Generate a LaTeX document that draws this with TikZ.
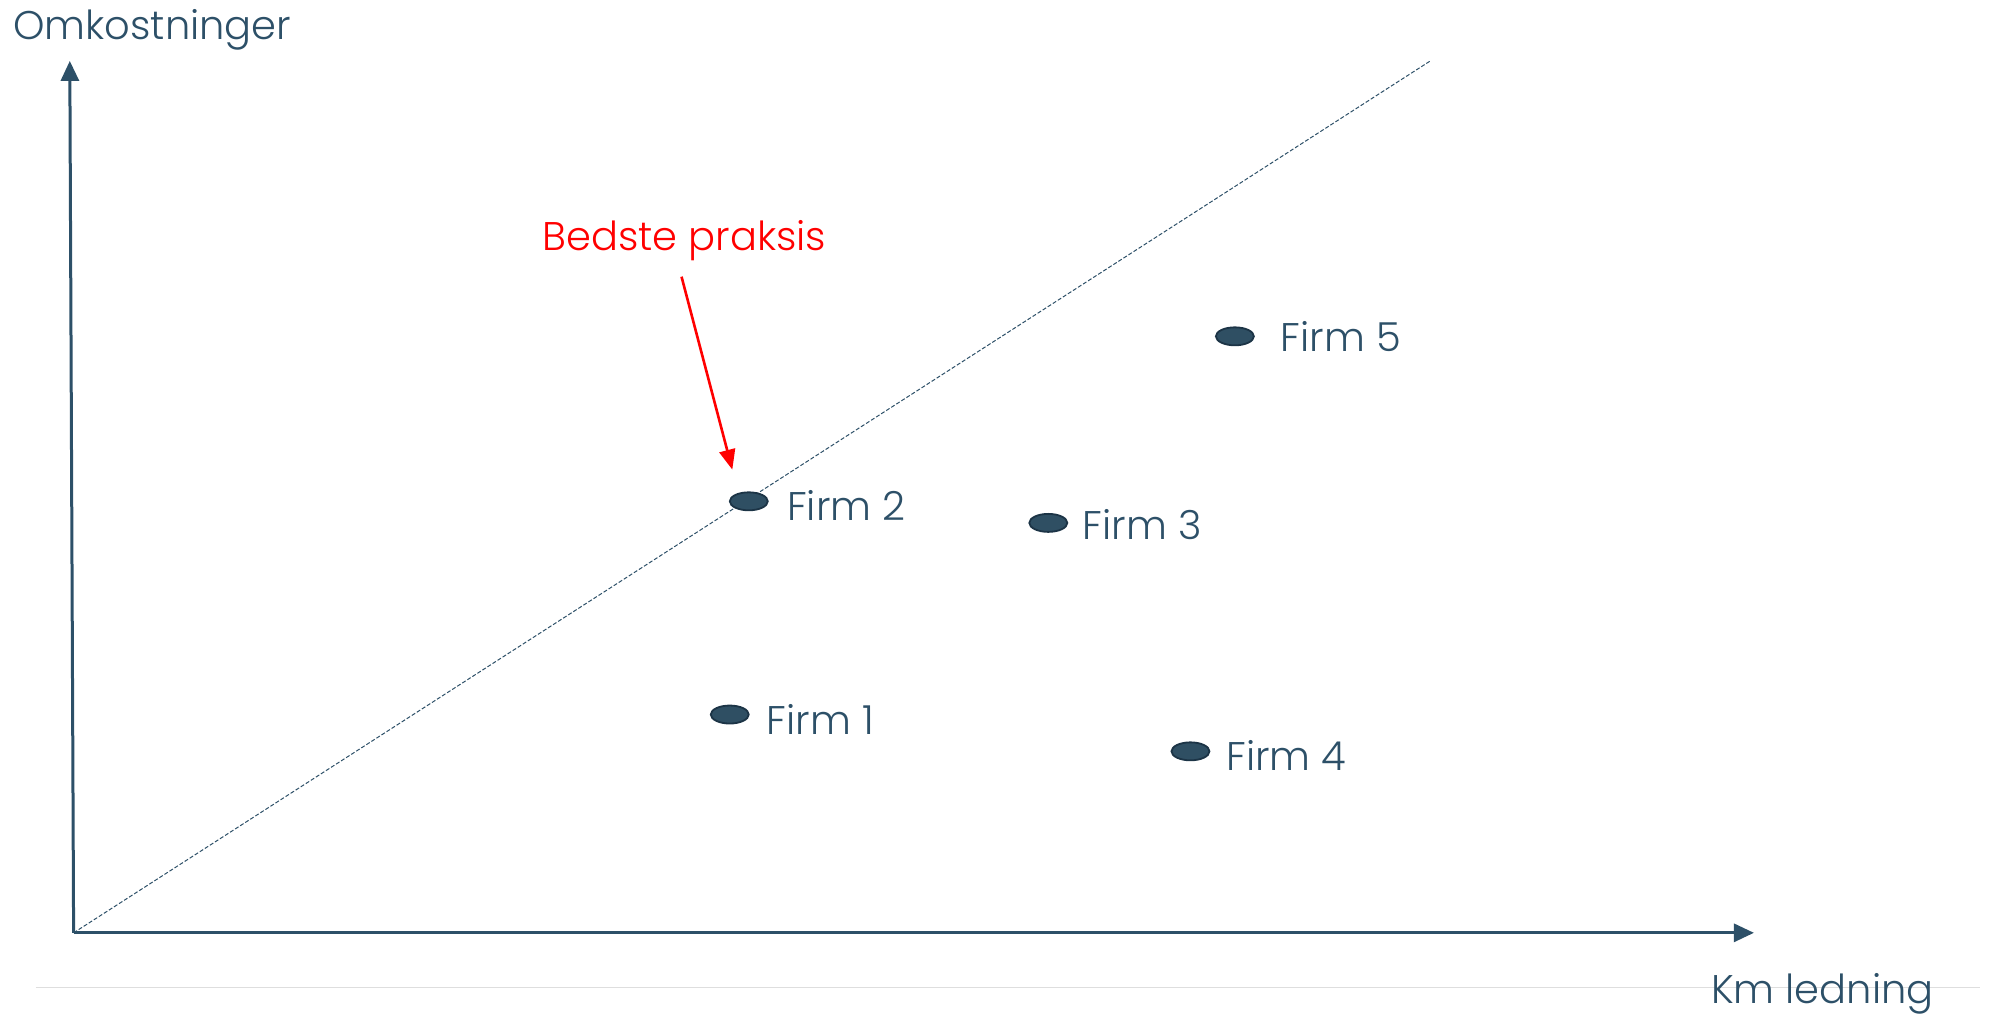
\documentclass[tikz,border=0pt]{standalone}
\usetikzlibrary{arrows.meta,shapes.geometric}
\usepackage{fontspec}
\setmainfont{Poppins}[UprightFont=* Light]
\definecolor{axiscol}{RGB}{45,80,104}
\definecolor{dotfill}{RGB}{47,79,99}
\definecolor{dotedge}{RGB}{28,52,70}
\definecolor{gridgray}{RGB}{222,222,222}
\begin{document}
\begin{tikzpicture}[x=0.6346pt,y=-0.6346pt,
  lbl/.style={anchor=base west,inner sep=0pt,text=axiscol,font=\fontsize{20}{24}\selectfont},
  firmdot/.style={ellipse,draw=dotedge,fill=dotfill,line width=0.9pt,minimum width=19pt,minimum height=9pt,inner sep=0pt},
  axisline/.style={draw=axiscol,line width=1.5pt,-{Triangle[length=10pt,width=9pt]}},
  bestline/.style={draw=axiscol,line width=0.5pt,dash pattern=on 2pt off 1pt}]
\useasboundingbox (0,0) rectangle (1568,799);
\coordinate (O) at (58,735);
\coordinate (ytop) at (55,48);
\coordinate (xend) at (1382,735);
\coordinate (dend) at (1127,48);
\coordinate (gl) at (28,778);
\coordinate (gr) at (1560,778);
\draw[gridgray,line width=0.6pt] (gl) -- (gr);
\draw[bestline] (O) -- (dend);
\draw[axisline] (O) -- (ytop);
\draw[axisline] (O) -- (xend);
\node[lbl] (ylab) at (10,31.5) {Omkostninger};
\node[lbl] (xlab) at (1348,790.5) {Km ledning};
\node[firmdot] (f2) at (590,395) {};
\node[firmdot] (f3) at (826,412) {};
\node[firmdot] (f5) at (973,265) {};
\node[firmdot] (f1) at (575,563) {};
\node[firmdot] (f4) at (938,592) {};
\node[lbl] (l2) at (620,410) {Firm 2};
\node[lbl] (l3) at (853,425) {Firm 3};
\node[lbl] (l5) at (1009,277) {Firm 5};
\node[lbl] (l1) at (604,579) {Firm 1};
\node[lbl] (l4) at (966,607) {Firm 4};
\node[lbl,text=red] (best) at (427,197) {Bedste praksis};
\coordinate (bstart) at (537,218);
\coordinate (bend) at (577,370);
\draw[red,line width=1.3pt,-{Triangle[length=10pt,width=8pt]}] (bstart) -- (bend);
\end{tikzpicture}
\end{document}
